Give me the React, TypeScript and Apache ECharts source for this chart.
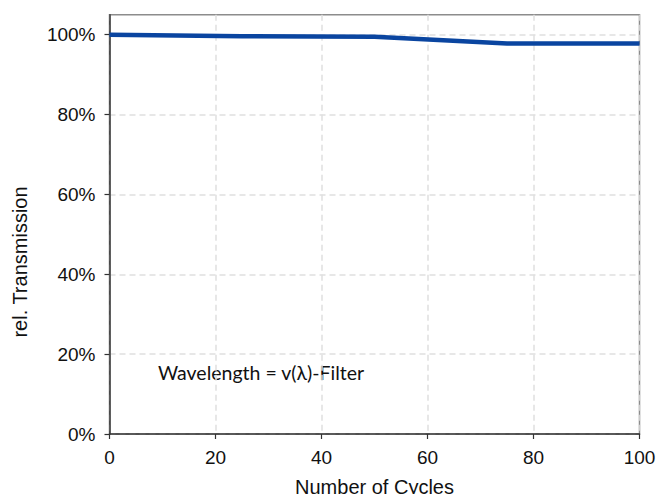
import React, { useEffect, useRef } from "react";
import * as echarts from "echarts";

const cycles = [0, 25, 50, 75, 100];
const transmission = [100, 99.6, 99.5, 97.8, 97.8];
const yTicks = [0, 20, 40, 60, 80, 100];
const xTicks = [0, 20, 40, 60, 80, 100];
const xName = "Number of Cycles";
const yName = "rel. Transmission";
const note = "Wavelength = v(λ)-Filter";

export default function App() {
  const ref = useRef<HTMLDivElement>(null);
  useEffect(() => {
    document.body.style.margin = "0";
    if (!ref.current) return;
    const chart = echarts.init(ref.current, null, { renderer: "svg" });
    const font = "'Liberation Sans', Arial, sans-serif";
    chart.setOption({
      animation: false,
      backgroundColor: "#fff",
      grid: {
        left: 109.5,
        right: 19.5,
        top: 14.7,
        bottom: 60,
        show: true,
        borderColor: "#8c8c8c",
        borderWidth: 1.5,
        containLabel: false,
        outerBoundsMode: "none",
      },
      xAxis: {
        type: "value",
        min: 0,
        max: 100,
        interval: 20,
        name: xName,
        nameLocation: "middle",
        nameGap: 43,
        nameTextStyle: { fontFamily: font, fontSize: 20, color: "#111" },
        axisLine: { show: true, onZero: false, lineStyle: { color: "#333", width: 1.5 } },
        axisTick: { show: true, length: 5, lineStyle: { color: "#333", width: 1.2 }, customValues: xTicks },
        axisLabel: { fontFamily: font, fontSize: 19, color: "#111", margin: 14, customValues: xTicks },
        splitLine: { show: true, lineStyle: { color: "#e0e0e0", width: 1.5, type: [6, 4] } },
      },
      yAxis: {
        type: "value",
        min: 0,
        max: 105,
        interval: 20,
        axisLine: { show: true, onZero: false, lineStyle: { color: "#333", width: 1.5 } },
        axisTick: { show: true, length: 5, lineStyle: { color: "#333", width: 1.2 }, customValues: yTicks },
        axisLabel: {
          fontFamily: font,
          fontSize: 19,
          color: "#111",
          margin: 14,
          customValues: yTicks,
          formatter: (v: number) => v + "%",
        },
        splitLine: { show: true, lineStyle: { color: "#e0e0e0", width: 1.5, type: [6, 4] } },
      },
      series: [
        {
          type: "line",
          data: cycles.map((c, i) => [c, transmission[i]]),
          showSymbol: false,
          lineStyle: { color: "#0a45a0", width: 4.5 },
          z: 5,
        },
      ],
      graphic: [
        {
          type: "text",
          x: 20,
          y: 262,
          rotation: Math.PI / 2,
          style: {
            text: yName,
            fontFamily: font,
            fontSize: 20,
            fill: "#111",
            align: "center",
            verticalAlign: "middle",
          },
        },
        {
          type: "text",
          x: 158,
          y: 372,
          style: {
            text: note,
            fontFamily: "Lato, 'Open Sans', sans-serif",
            fontSize: 19.5,
            fill: "#111",
            align: "left",
            verticalAlign: "middle",
          },
        },
      ],
    });
    return () => chart.dispose();
  }, []);
  return <div ref={ref} style={{ width: 659, height: 494 }} />;
}
